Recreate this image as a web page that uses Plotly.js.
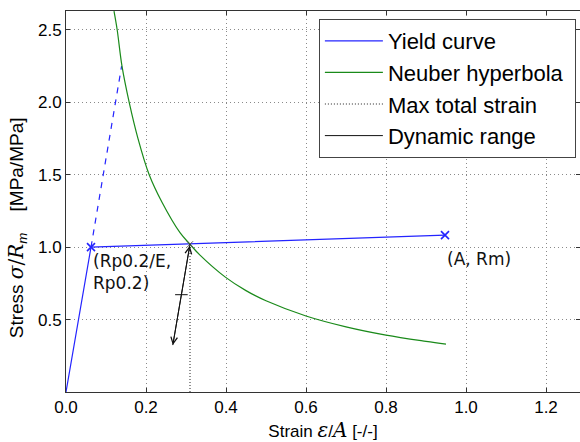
<!DOCTYPE html>
<html>
<head>
<meta charset="utf-8">
<script src="https://cdn.plot.ly/plotly-3.0.1.min.js"></script>
<style>html,body{margin:0;padding:0;background:#fff;}#chart{width:580px;height:442px;}</style>
</head>
<body>
<div id="chart"></div>
<script>
// Yield curve (elastic-plastic, bilinear)
const yieldX = [0.0, 0.0625, 0.9475];
const yieldY = [0.0, 1.0, 1.083];
// Marked points: (Rp0.2/E, Rp0.2) and (A, Rm)
const markX = [0.0625, 0.9475];
const markY = [1.0, 1.083];
// Elastic extension (dashed)
const elasticX = [0.0625, 0.139];
const elasticY = [1.0, 2.25];
// Neuber hyperbola, points
const neuberX = [0.12, 0.128, 0.14, 0.158, 0.18, 0.208, 0.24, 0.285, 0.31, 0.335, 0.3975, 0.45, 0.5, 0.6, 0.7, 0.8, 0.9, 0.95];
const neuberY = [2.63, 2.50, 2.25, 2.00, 1.75, 1.50, 1.31, 1.10, 1.02, 0.945, 0.795, 0.70, 0.63, 0.525, 0.45, 0.393, 0.35, 0.331];
// Max total strain
const maxStrainX = [0.31, 0.31];
const maxStrainY = [0.0, 1.02];
// Dynamic range (arrow from intersection downwards)
const dynX = [0.31, 0.267];
const dynY = [1.02, 0.324];
const dynMidX = [0.2885];
const dynMidY = [0.672];
// Tick labels
const xTicks = [0.0, 0.2, 0.4, 0.6, 0.8, 1.0, 1.2];
const yTicks = [0.5, 1.0, 1.5, 2.0, 2.5];
// Point labels
const labelTexts = ['(Rp0.2/E,<br>Rp0.2)', '(A, Rm)'];
const labelX = [0.0625, 0.9475];
const labelY = [0.985, 1.0];
// Legend names
const names = ['Yield curve', 'Neuber hyperbola', 'Max total strain', 'Dynamic range'];

const BLUE = '#2424ff';
const GREEN = '#1a8a1a';

const traces = [
  {x: yieldX, y: yieldY, mode: 'lines', name: names[0],
   line: {color: BLUE, width: 1.2}},
  {x: elasticX, y: elasticY, mode: 'lines', showlegend: false,
   line: {color: BLUE, width: 1.2, dash: '6px,6px'}},
  {x: markX, y: markY, mode: 'markers', showlegend: false,
   marker: {symbol: 'x-thin', size: 8, color: BLUE, line: {color: BLUE, width: 1.6}}},
  {x: neuberX, y: neuberY, mode: 'lines', name: names[1] + '&nbsp;',
   line: {color: GREEN, width: 1.2, shape: 'spline', smoothing: 1}},
  {x: maxStrainX, y: maxStrainY, mode: 'lines', name: names[2],
   line: {color: '#222', width: 1, dash: '1px,2px'}},
  {x: [maxStrainX[1]], y: [maxStrainY[1]], mode: 'markers', showlegend: false,
   marker: {symbol: 'x-thin', size: 6, color: '#555', line: {color: '#555', width: 1}}},
  {x: dynX, y: dynY, mode: 'lines', name: names[3],
   line: {color: '#111', width: 1}},
  {x: dynMidX, y: dynMidY, mode: 'markers', showlegend: false,
   marker: {symbol: 'line-ew', size: 9, color: '#111', line: {color: '#111', width: 1}}}
];

const annotations = [
  {x: dynX[1], y: dynY[1], ax: dynX[0], ay: dynY[0], xref: 'x', yref: 'y', axref: 'x', ayref: 'y',
   text: '', showarrow: true, arrowside: 'end+start', arrowhead: 5, startarrowhead: 5,
   arrowsize: 1.3, startarrowsize: 1.3, arrowwidth: 1, arrowcolor: '#111'}
];
for (let i = 0; i < labelTexts.length; i++) {
  annotations.push({x: labelX[i], y: labelY[i], xref: 'x', yref: 'y', text: labelTexts[i],
    showarrow: false, xanchor: 'left', yanchor: 'top', align: 'left',
    font: {family: 'DejaVu Sans', size: 17, color: '#111'}});
}

const axisCommon = {
  showline: true, linecolor: '#333', linewidth: 1, mirror: 'ticks',
  ticks: 'inside', ticklen: 4, tickcolor: '#333',
  showgrid: true, gridcolor: '#8a8a8a', griddash: '1px,3px', gridwidth: 1,
  zeroline: false, tickfont: {family: 'Liberation Sans', size: 17, color: '#000'}
};

const M = 'font-family:DejaVu Serif;font-size:20px';
const NB = '&nbsp;';
const layout = {
  width: 580, height: 442,
  margin: {l: 66, r: 0, t: 11, b: 50},
  paper_bgcolor: '#fff', plot_bgcolor: '#fff',
  showlegend: true,
  xaxis: Object.assign({}, axisCommon, {
    range: [0, 1.285], tickvals: xTicks, tickformat: '.1f',
    title: {text: 'Strain <i><span style="' + M + '">ε</span></i>/<i><span style="' + M + '">A</span></i> [-/-]',
            font: {family: 'Liberation Sans', size: 17, color: '#000'}, standoff: 14}
  }),
  yaxis: Object.assign({}, axisCommon, {
    range: [0, 2.631], tickvals: yTicks, tickformat: '.1f',
    title: {text: 'Stress <i><span style="' + M + '">σ</span></i><span style="' + M + '">/</span><i><span style="' + M + '">R</span></i><sub><i>m</i></sub>' + NB.repeat(4) + '[MPa/MPa]' + NB.repeat(10),
            font: {family: 'Liberation Sans', size: 19, color: '#000'}, standoff: 9}
  }),
  legend: {x: 0.492, y: 0.979, xanchor: 'left', yanchor: 'top',
           bgcolor: '#fff', bordercolor: '#444', borderwidth: 1, itemwidth: 58,
           font: {family: 'Liberation Sans', size: 22, color: '#000'}},
  annotations: annotations
};

Plotly.newPlot('chart', traces, layout, {displayModeBar: false, staticPlot: true});
</script>
</body>
</html>
